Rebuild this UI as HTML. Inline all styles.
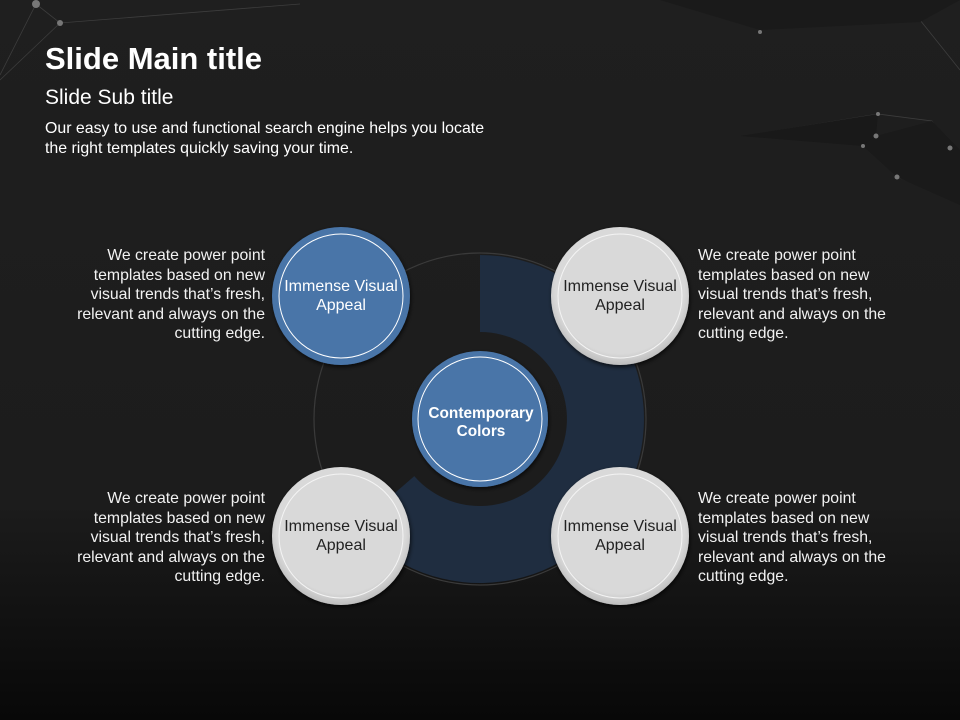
<!DOCTYPE html>
<html><head><meta charset="utf-8"><style>
html,body{margin:0;padding:0}
body{width:960px;height:720px;overflow:hidden;position:relative;font-family:"Liberation Sans",sans-serif;
background:linear-gradient(#1f1f1f 0%,#1c1c1c 70%,#080808 100%);color:#fff}
.t{position:absolute;white-space:nowrap}
.side{position:absolute;font-size:15.8px;line-height:19.5px;color:#f2f2f2;width:230px;white-space:nowrap}
</style></head><body>
<svg width="960" height="720" style="position:absolute;left:0;top:0">
<g stroke="#4a4a4a" stroke-width="0.8" fill="none" opacity="0.7">
<polyline points="0,75 36,4 60,23 300,4"/><polyline points="0,80 60,23"/>
<polyline points="745,136 878,114 932,121 950,148"/><polyline points="876,136 897,177 960,200"/>
<polyline points="920,20 960,70"/>
</g>
<polygon points="740,136 878,114 876,136 863,146" fill="#191919"/>
<polygon points="863,146 876,136 932,121 960,150 960,205 897,177" fill="#1a1a1a"/>
<polygon points="660,0 960,0 920,22 760,30" fill="#1a1a1a"/>
<g fill="#777"><circle cx="36" cy="4" r="4"/><circle cx="60" cy="23" r="3"/><circle cx="878" cy="114" r="2"/><circle cx="876" cy="136" r="2.5"/><circle cx="863" cy="146" r="2"/><circle cx="950" cy="148" r="2.5"/><circle cx="897" cy="177" r="2.5"/><circle cx="760" cy="32" r="2"/></g>
<circle cx="480" cy="419" r="166" fill="none" stroke="#3a3a3a" stroke-width="1.2"/>
<path d="M480,255 A164,164 0 1 1 356.2,526.6 L414.3,476.1 A87,87 0 1 0 480,332 Z" fill="#1f2d40"/>
<defs><filter id="s" x="-20%" y="-20%" width="140%" height="140%"><feDropShadow dx="1" dy="2" stdDeviation="2" flood-color="#000" flood-opacity="0.7"/></filter>
<radialGradient id="g" cx="50%" cy="45%" r="55%"><stop offset="0.85" stop-color="#d9d9d9"/><stop offset="1" stop-color="#bdbdbd"/></radialGradient></defs>
<g filter="url(#s)">
<circle cx="480" cy="419" r="68" fill="#4a75a8"/>
<circle cx="341" cy="296" r="69" fill="#4a75a8"/>
<circle cx="620" cy="296" r="69" fill="url(#g)"/>
<circle cx="341" cy="536" r="69" fill="url(#g)"/>
<circle cx="620" cy="536" r="69" fill="url(#g)"/>
</g>
<g fill="none" stroke="#fff" stroke-width="1">
<circle cx="480" cy="419" r="62"/><circle cx="341" cy="296" r="62"/>
<circle cx="620" cy="296" r="62" stroke="#f4f4f4"/><circle cx="341" cy="536" r="62" stroke="#f4f4f4"/><circle cx="620" cy="536" r="62" stroke="#f4f4f4"/>
</g>
<g font-family="Liberation Sans, sans-serif" font-size="16" text-anchor="middle">
<text x="341" y="291" fill="#fff">Immense Visual</text><text x="341" y="310" fill="#fff">Appeal</text>
<text x="620" y="291" fill="#222">Immense Visual</text><text x="620" y="310" fill="#222">Appeal</text>
<text x="341" y="531" fill="#222">Immense Visual</text><text x="341" y="550" fill="#222">Appeal</text>
<text x="620" y="531" fill="#222">Immense Visual</text><text x="620" y="550" fill="#222">Appeal</text>
<text x="481" y="418" fill="#fff" font-weight="bold" font-size="15.4">Contemporary</text><text x="481" y="436" fill="#fff" font-weight="bold" font-size="15.4">Colors</text>
</g>
</svg>
<div class="t" style="left:45px;top:41px;font-size:31px;font-weight:bold">Slide Main title</div>
<div class="t" style="left:45px;top:86px;font-size:21px">Slide Sub title</div>
<div class="t" style="left:45px;top:119px;font-size:15.9px;line-height:19.5px">Our easy to use and functional search engine helps you locate<br>the right templates quickly saving your time.</div>
<div class="side" style="left:35px;top:246px;text-align:right">We create power point<br>templates based on new<br>visual trends that’s fresh,<br>relevant and always on the<br>cutting edge.</div>
<div class="side" style="left:698px;top:246px">We create power point<br>templates based on new<br>visual trends that’s fresh,<br>relevant and always on the<br>cutting edge.</div>
<div class="side" style="left:35px;top:489px;text-align:right">We create power point<br>templates based on new<br>visual trends that’s fresh,<br>relevant and always on the<br>cutting edge.</div>
<div class="side" style="left:698px;top:489px">We create power point<br>templates based on new<br>visual trends that’s fresh,<br>relevant and always on the<br>cutting edge.</div>
</body></html>
